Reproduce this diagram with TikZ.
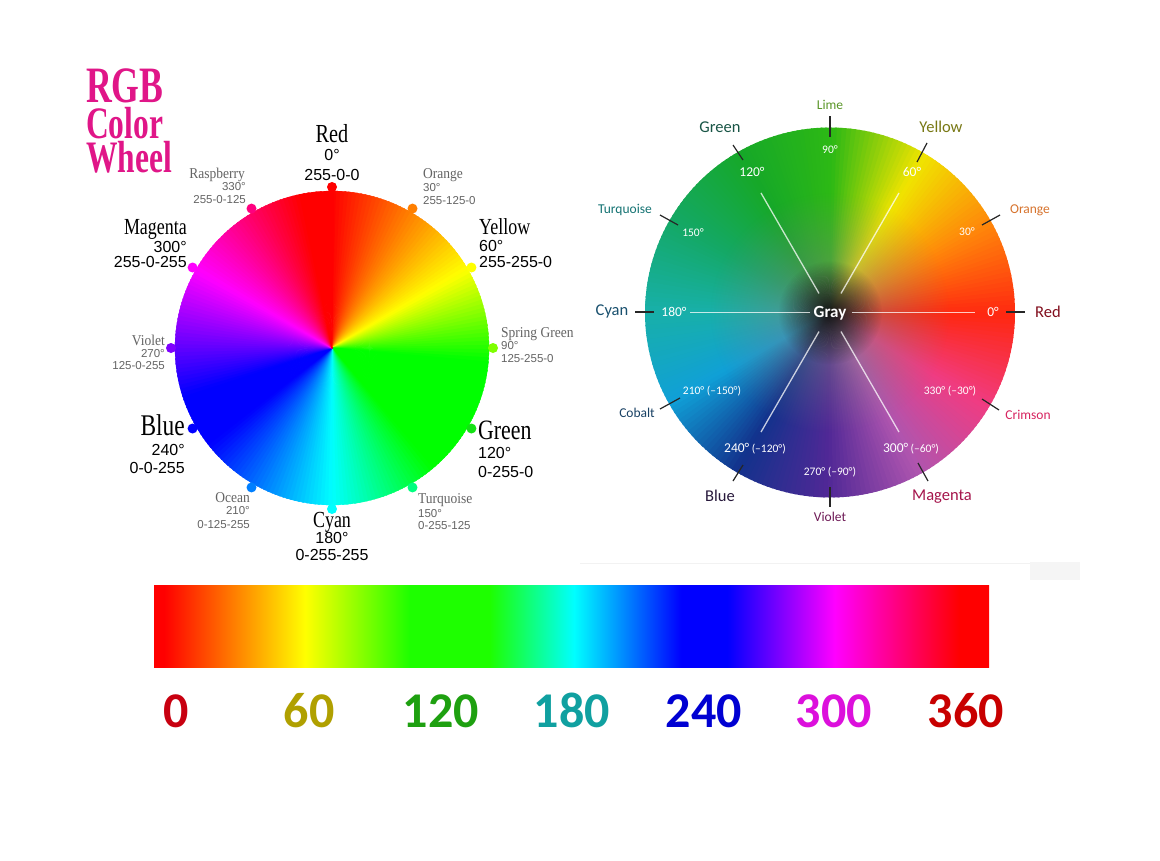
\documentclass[tikz,border=0pt]{standalone}
\usepackage{fontspec}
\usepackage{graphicx}
\setmainfont{Liberation Serif}
\newfontfamily\nsans{Liberation Sans}
\newfontfamily\calib{Carlito}
\usetikzlibrary{fadings,calc}

% left wheel: clockwise angle from top -> hue
\newcommand{\lwseg}[4]{%
  \pgfmathtruncatemacro{\nst}{max(2,round((#3-#1)/1.5))}%
  \foreach \i in {1,...,\nst}{%
    \pgfmathsetmacro{\wa}{#1+(\i-1)*(#3-#1)/\nst-90}%
    \pgfmathsetmacro{\wb}{#1+\i*(#3-#1)/\nst-90+0.6}%
    \pgfmathsetmacro{\wh}{#2+(\i-0.5)*(#4-#2)/\nst}%
    \definecolor{wc}{Hsb}{\wh,1,1}%
    \filldraw[wc, line width=0.3pt, line join=round] (LC) -- ++(\wa:157) arc[start angle=\wa, end angle=\wb, radius=157] -- cycle;}}
% right wheel: counter-clockwise angle from east, colour mix
\newcommand{\rwseg}[4]{%
  \pgfmathtruncatemacro{\nst}{max(2,round((#3-#1)/1.5))}%
  \foreach \i in {1,...,\nst}{%
    \pgfmathsetmacro{\wa}{-(#1+(\i-1)*(#3-#1)/\nst)+0.6}%
    \pgfmathsetmacro{\wb}{-(#1+\i*(#3-#1)/\nst)}%
    \pgfmathtruncatemacro{\wp}{round(100*(\i-0.5)/\nst)}%
    \colorlet{wc}{#4!\wp!#2}%
    \fill[wc] (RC) -- ++(\wa:185) arc[start angle=\wa, end angle=\wb, radius=185] -- cycle;}}

\newcommand{\wBig}[2]{{\fontsize{#1}{#1}\selectfont\scalebox{0.78}[1]{#2}}}
\newcommand{\wSmall}[1]{{\fontsize{15}{15}\selectfont\scalebox{0.9}[1]{#1}}}
\newcommand{\wNum}[1]{{\nsans\fontsize{16}{16}\selectfont #1}}
\newcommand{\wNumS}[1]{{\nsans\fontsize{11.5}{11.5}\selectfont #1}}
\newcommand{\wTitle}[2]{{\fontsize{#1}{#1}\bfseries\selectfont\scalebox{0.70}[1]{#2}}}

\definecolor{titlepink}{RGB}{224,22,136}
\definecolor{smallgray}{RGB}{100,100,100}
\definecolor{d0}{RGB}{255,0,0}
\definecolor{d30}{RGB}{255,127,0}
\definecolor{d60}{RGB}{255,255,0}
\definecolor{d90}{RGB}{127,255,0}
\definecolor{d120}{RGB}{20,225,20}
\definecolor{d150}{RGB}{0,255,127}
\definecolor{d180}{RGB}{0,255,255}
\definecolor{d210}{RGB}{0,127,255}
\definecolor{d240}{RGB}{0,0,255}
\definecolor{d270}{RGB}{127,0,255}
\definecolor{d300}{RGB}{255,0,255}
\definecolor{d330}{RGB}{255,0,127}
\definecolor{rc0}{RGB}{255,40,16}
\definecolor{rc30}{RGB}{255,135,10}
\definecolor{rc60}{RGB}{240,228,0}
\definecolor{rc90}{RGB}{45,185,20}
\definecolor{rc120}{RGB}{22,168,40}
\definecolor{rc150}{RGB}{20,168,100}
\definecolor{rc180}{RGB}{24,176,168}
\definecolor{rc210}{RGB}{16,160,215}
\definecolor{rc240}{RGB}{18,50,140}
\definecolor{rc270}{RGB}{80,40,150}
\definecolor{rc300}{RGB}{175,85,175}
\definecolor{rc330}{RGB}{240,60,130}
\definecolor{tLime}{RGB}{90,150,40}
\definecolor{tGreen}{RGB}{25,85,70}
\definecolor{tYellow}{RGB}{120,120,20}
\definecolor{tTurq}{RGB}{20,115,115}
\definecolor{tOrange}{RGB}{215,115,45}
\definecolor{tCyan}{RGB}{25,80,110}
\definecolor{tRed}{RGB}{130,15,30}
\definecolor{tCobalt}{RGB}{25,65,100}
\definecolor{tCrimson}{RGB}{215,35,95}
\definecolor{tBlue}{RGB}{40,25,60}
\definecolor{tMagenta}{RGB}{165,20,75}
\definecolor{tViolet}{RGB}{110,25,85}
\definecolor{n0}{RGB}{200,0,16}
\definecolor{n60}{RGB}{176,160,0}
\definecolor{n120}{RGB}{30,160,16}
\definecolor{n180}{RGB}{16,160,160}
\definecolor{n240}{RGB}{0,0,210}
\definecolor{n300}{RGB}{220,16,220}
\definecolor{n360}{RGB}{200,0,0}
\definecolor{bargreen}{RGB}{30,255,0}

\pgfdeclarehorizontalshading{huebar}{100bp}{%
  color(0bp)=(d0); color(25bp)=(d0); color(25.6bp)=(d0);
  color(34.06bp)=(d60); color(40.31bp)=(bargreen);
  color(45.11bp)=(bargreen); color(50.15bp)=(d180);
  color(56.57bp)=(d240); color(59.33bp)=(d240); color(65.76bp)=(d300);
  color(73.2bp)=(d0); color(75bp)=(d0); color(100bp)=(d0)}

\tikzfading[name=softcenter, inner color=transparent!35, outer color=transparent!100]
\tikzfading[name=darkcore, inner color=transparent!0, outer color=transparent!100]

\tikzset{
  rl/.style={font=\calib\fontsize{16.5}{16.5}\selectfont, inner sep=0},
  rs/.style={font=\calib\fontsize{13.5}{13.5}\selectfont, inner sep=0},
  wd/.style={white, font=\calib\fontsize{13.5}{13.5}\selectfont, inner sep=0},
  wds/.style={white, font=\calib\fontsize{11.5}{11.5}\selectfont, inner sep=0},
  tick/.style={black!85, line width=1.2pt},
  spoke/.style={white, opacity=0.75, line width=1.3pt},
  barnum/.style={font=\calib\bfseries\fontsize{50}{50}\selectfont, anchor=base, inner sep=0},
  lab/.style={inner sep=0},
}

\begin{document}
\begin{tikzpicture}[x=1pt,y=-1pt]
\useasboundingbox (0,0) rectangle (1160,860);
\fill[white] (0,0) rectangle (1160,860);

% ---------------- title
\node[anchor=base west, inner sep=0, text=titlepink] (tRGB) at (86,102) {\wTitle{51}{RGB}};
\node[anchor=base west, inner sep=0, text=titlepink] (tColor) at (86,138) {\wTitle{45}{Color}};
\node[anchor=base west, inner sep=0, text=titlepink] (tWheel) at (86,172) {\wTitle{45}{Wheel}};

% ---------------- left wheel
\coordinate (LC) at (332,348);
\lwseg{0}{0}{60}{60}
\lwseg{60}{60}{95}{120}
\lwseg{95}{120}{140}{120}
\lwseg{140}{120}{180}{180}
\lwseg{180}{180}{232}{240}
\lwseg{232}{240}{252}{240}
\lwseg{252}{240}{300}{300}
\lwseg{300}{300}{348}{359.5}
\lwseg{348}{0}{360}{0}

\foreach \h in {0,30,...,330}
  \fill[d\h] ($(LC)+(\h-90:161)$) circle[radius=5];

% big labels
\node[lab, anchor=base] (lRed) at (332,142) {\wBig{26}{Red}};
\node[lab, anchor=base] (lRedD) at (332,160) {\wNum{0°}};
\node[lab, anchor=base] (lRedV) at (332,180) {\wNum{255-0-0}};
\node[lab, anchor=base west] (lYel) at (479,234) {\wBig{23}{Yellow}};
\node[lab, anchor=base west] (lYelD) at (479,251) {\wNum{60°}};
\node[lab, anchor=base west] (lYelV) at (479,267) {\wNum{255-255-0}};
\node[lab, anchor=base west] (lGre) at (478,439) {\wBig{28}{Green}};
\node[lab, anchor=base west] (lGreD) at (478,458) {\wNum{120°}};
\node[lab, anchor=base west] (lGreV) at (478,477) {\wNum{0-255-0}};
\node[lab, anchor=base] (lCya) at (332,527) {\wBig{23}{Cyan}};
\node[lab, anchor=base] (lCyaD) at (332,543) {\wNum{180°}};
\node[lab, anchor=base] (lCyaV) at (332,560) {\wNum{0-255-255}};
\node[lab, anchor=base east] (lBlu) at (185,435) {\wBig{30}{Blue}};
\node[lab, anchor=base east] (lBluD) at (185,455) {\wNum{240°}};
\node[lab, anchor=base east] (lBluV) at (185,473) {\wNum{0-0-255}};
\node[lab, anchor=base east] (lMag) at (187,234) {\wBig{23}{Magenta}};
\node[lab, anchor=base east] (lMagD) at (187,252) {\wNum{300°}};
\node[lab, anchor=base east] (lMagV) at (187,267) {\wNum{255-0-255}};

% small labels
\begin{scope}[text=smallgray]
\node[lab, anchor=base east] (lRas) at (245,178) {\wSmall{Raspberry}};
\node[lab, anchor=base east] (lRasD) at (246,190) {\wNumS{330°}};
\node[lab, anchor=base east] (lRasV) at (246,203) {\wNumS{255-0-125}};
\node[lab, anchor=base west] (lOra) at (423,178) {\wSmall{Orange}};
\node[lab, anchor=base west] (lOraD) at (423,191) {\wNumS{30°}};
\node[lab, anchor=base west] (lOraV) at (423,204) {\wNumS{255-125-0}};
\node[lab, anchor=base west] (lSpr) at (501,337) {\wSmall{Spring Green}};
\node[lab, anchor=base west] (lSprD) at (501,349) {\wNumS{90°}};
\node[lab, anchor=base west] (lSprV) at (501,362) {\wNumS{125-255-0}};
\node[lab, anchor=base west] (lTur) at (418,503) {\wSmall{Turquoise}};
\node[lab, anchor=base west] (lTurD) at (418,517) {\wNumS{150°}};
\node[lab, anchor=base west] (lTurV) at (418,529) {\wNumS{0-255-125}};
\node[lab, anchor=base east] (lOce) at (250,502) {\wSmall{Ocean}};
\node[lab, anchor=base east] (lOceD) at (250,514) {\wNumS{210°}};
\node[lab, anchor=base east] (lOceV) at (250,528) {\wNumS{0-125-255}};
\node[lab, anchor=base east] (lVio) at (165,345) {\wSmall{Violet}};
\node[lab, anchor=base east] (lVioD) at (165,357) {\wNumS{270°}};
\node[lab, anchor=base east] (lVioV) at (165,369) {\wNumS{125-0-255}};
\end{scope}

% ---------------- right wheel
\coordinate (RC) at (830,312.5);
\rwseg{0}{rc0}{30}{rc30}
\rwseg{30}{rc30}{60}{rc60}
\rwseg{60}{rc60}{90}{rc90}
\rwseg{90}{rc90}{120}{rc120}
\rwseg{120}{rc120}{150}{rc150}
\rwseg{150}{rc150}{180}{rc180}
\rwseg{180}{rc180}{210}{rc210}
\rwseg{210}{rc210}{240}{rc240}
\rwseg{240}{rc240}{270}{rc270}
\rwseg{270}{rc270}{300}{rc300}
\rwseg{300}{rc300}{330}{rc330}
\rwseg{330}{rc330}{360}{rc0}
\fill[black!50, path fading=softcenter] (RC) circle[radius=120];
\fill[black!92, path fading=darkcore] (RC) circle[radius=52];

\foreach \h/\ri/\ro in {0/22/145, 60/22/138, 120/22/138, 180/20/140, 240/22/138, 300/22/138}
  \draw[spoke] ($(RC)+(-\h:\ri)$) -- ($(RC)+(-\h:\ro)$);

\node[white, font=\calib\bfseries\fontsize{17}{17}\selectfont, inner sep=0] (gray) at (830,313) {Gray};

% outer labels and ticks
\node[rs, text=tLime] (rLime) at (830,105) {Lime};
\draw[tick] (830,116) -- (830,137);
\node[wds] (r90) at (830,150) {90°};
\node[rl, text=tGreen] (rGreen) at (720,127) {Green};
\draw[tick] (733,145) -- (743,160);
\node[wd] (r120) at (752,172) {120°};
\node[rl, text=tYellow] (rYellow) at (941,127) {Yellow};
\draw[tick] (927,143) -- (917,162);
\node[wd] (r60) at (912,172) {60°};
\node[rs, text=tTurq] (rTurq) at (625,210) {Turquoise};
\draw[tick] (660,215) -- (678,225);
\node[wds] (r150) at (693,233) {150°};
\node[rs, text=tOrange] (rOrange) at (1030,210) {Orange};
\draw[tick] (1000,215) -- (982,225);
\node[wds] (r30) at (967,232) {30°};
\node[rl, text=tCyan] (rCyan) at (612,311) {Cyan};
\draw[tick] (635,312) -- (654,312);
\node[wd] (r180) at (674,312) {180°};
\node[rl, text=tRed] (rRed) at (1048,312) {Red};
\draw[tick] (1006,312) -- (1025,312);
\node[wd] (r0) at (993,312) {0°};
\node[rs, text=tCobalt] (rCobalt) at (637,413) {Cobalt};
\draw[tick] (660,409) -- (680,398);
\node[wds] (r210) at (712,391) {210° (–150°)};
\node[rs, text=tCrimson] (rCrimson) at (1028,415) {Crimson};
\draw[tick] (982,399) -- (999,410);
\node[wds] (r330) at (950,391) {330° (–30°)};
\node[rl, text=tBlue] (rBlue) at (720,496) {Blue};
\draw[tick] (733,481) -- (743,465);
\node[inner sep=0, white] (r240) at (755,449) {{\calib\fontsize{13.5}{13.5}\selectfont 240°} {\calib\fontsize{11.5}{11.5}\selectfont(–120°)}};
\node[rl, text=tMagenta] (rMagenta) at (942,497) {Magenta};
\draw[tick] (918,463) -- (928,481);
\node[inner sep=0, white] (r300) at (911,449) {{\calib\fontsize{13.5}{13.5}\selectfont 300°} {\calib\fontsize{11.5}{11.5}\selectfont(–60°)}};
\node[rs, text=tViolet] (rViolet) at (830,517) {Violet};
\draw[tick] (830,487) -- (830,507);
\node[wds] (r270) at (830,472) {270° (–90°)};

% faint remnants
\draw[black!5, line width=1pt] (580,563) -- (1030,563);
\fill[black!4] (1030,562) rectangle (1080,580);

% ---------------- hue bar
\shade[shading=huebar] (154,585) rectangle (989,667);
\node[barnum, text=n0] (b0) at (176,727) {0};
\node[barnum, text=n60] (b60) at (309,727) {60};
\node[barnum, text=n120] (b120) at (441,727) {120};
\node[barnum, text=n180] (b180) at (572,727) {180};
\node[barnum, text=n240] (b240) at (704,727) {240};
\node[barnum, text=n300] (b300) at (834,727) {300};
\node[barnum, text=n360] (b360) at (966,727) {360};
\end{tikzpicture}
\end{document}
